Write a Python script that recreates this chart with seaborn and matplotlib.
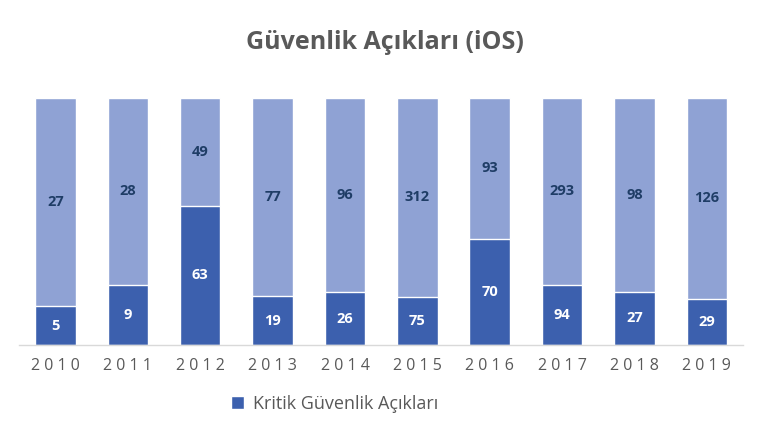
import pandas as pd
import seaborn as sns
import matplotlib.pyplot as plt

years = ["2010", "2011", "2012", "2013", "2014", "2015", "2016", "2017", "2018", "2019"]
kritik = [5, 9, 63, 19, 26, 75, 70, 94, 27, 29]
diger = [27, 28, 49, 77, 96, 312, 93, 293, 98, 126]

df = pd.DataFrame({"yil": years, "kritik": kritik, "diger": diger})
df["toplam"] = df["kritik"] + df["diger"]
df["kritik_pct"] = df["kritik"] / df["toplam"] * 100
df["tam"] = 100.0

sns.set_theme(style="white")
plt.rcParams["font.family"] = ["Open Sans", "DejaVu Sans"]

koyu = "#3c60ae"
acik = "#8fa2d4"

fig, ax = plt.subplots(figsize=(7.7, 4.34), dpi=100)
fig.subplots_adjust(left=0.025, right=0.965, top=0.775, bottom=0.205)

sns.barplot(data=df, x="yil", y="tam", color=acik, width=0.56, saturation=1, ax=ax)
sns.barplot(data=df, x="yil", y="kritik_pct", color=koyu, width=0.56, saturation=1,
            ax=ax, label="Kritik Güvenlik Açıkları")

# değer etiketleri
for i, row in df.iterrows():
    ax.text(i, row["kritik_pct"] / 2, str(row["kritik"]), ha="center", va="center",
            color="white", fontsize=10.5, fontweight="bold")
    ax.text(i, (100 + row["kritik_pct"]) / 2, str(row["diger"]), ha="center", va="center",
            color="#1f3d66", fontsize=10.5, fontweight="bold")

ax.set_ylim(0, 100)
ax.set_xlim(-0.5, 9.5)
ax.set_yticks([])
ax.set_xlabel("")
ax.set_ylabel("")
ax.set_xticks(range(len(years)))
ax.set_xticklabels([" ".join(y) for y in years], fontsize=11.5, color="#595959")
ax.tick_params(axis="x", length=0, pad=9)
for s in ["top", "left", "right"]:
    ax.spines[s].set_visible(False)
ax.spines["bottom"].set_color("#d9d9d9")
ax.spines["bottom"].set_linewidth(1)

fig.suptitle("Güvenlik Açıkları (iOS)", x=0.5, y=0.93, fontsize=18,
             fontweight="bold", color="#595959")

h, l = ax.get_legend_handles_labels()
ax.legend(h[-1:], l[-1:], loc="upper left", bbox_to_anchor=(0.27, -0.135),
          frameon=False, fontsize=13, handlelength=0.75, handleheight=0.75,
          handletextpad=0.5, labelcolor="#595959")

fig.savefig("out.png", dpi=100)
